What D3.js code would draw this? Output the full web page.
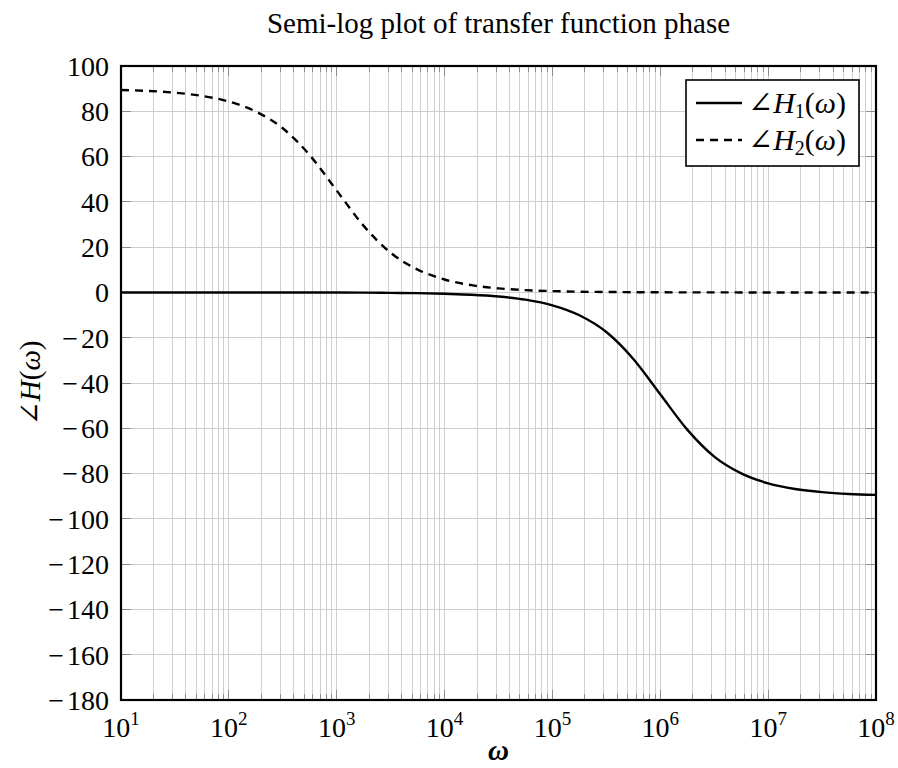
<!DOCTYPE html>
<html lang="en">
<head>
  <meta charset="UTF-8">
  <title>Semi-log plot of transfer function phase</title>
  <style>
    body { margin: 0; background: #fff; }
    svg { display: block; }
    text { font-family: "Liberation Serif", "DejaVu Serif", serif; fill: #000; }
    .grid line { stroke: #cfcfcf; stroke-width: 1; shape-rendering: crispEdges; }
    .tick-mark { stroke: #8c8c8c; stroke-width: 1; shape-rendering: crispEdges; }
  </style>
</head>
<body>
  <script src="https://d3js.org/d3.v7.min.js"></script>
  <script>
    // log10(omega) sample positions, quarter decades from 10^1 to 10^8
    const logOmega = [1, 1.25, 1.5, 1.75, 2, 2.25, 2.5, 2.75, 3, 3.25, 3.5, 3.75, 4, 4.25, 4.5,
                      4.75, 5, 5.25, 5.5, 5.75, 6, 6.25, 6.5, 6.75, 7, 7.25, 7.5, 7.75, 8];
    // phase values (degrees)
    const phaseH1 = [0, 0, 0, 0, 0, 0, -0.02, -0.03, -0.06, -0.1, -0.2, -0.3, -0.6, -1.0, -1.8,
                     -3.2, -5.7, -10.1, -17.5, -29.4, -45, -60.6, -72.5, -79.9, -84.3, -86.8, -88.2, -89.0, -89.4];
    const phaseH2 = [89.4, 89.0, 88.2, 86.8, 84.3, 79.9, 72.5, 60.6, 45, 29.4, 17.5, 10.1, 5.7, 3.2, 1.8,
                     1.0, 0.6, 0.3, 0.2, 0.1, 0.06, 0.03, 0.02, 0, 0, 0, 0, 0, 0];
    const yTicks = [100, 80, 60, 40, 20, 0, -20, -40, -60, -80, -100, -120, -140, -160, -180];
    const xDecades = [1, 2, 3, 4, 5, 6, 7, 8];

    const width = 898, height = 768;
    const margin = { top: 66, right: 22, bottom: 68, left: 121 };
    const iw = width - margin.left - margin.right;
    const ih = height - margin.top - margin.bottom;

    const x = d3.scaleLog().domain([1e1, 1e8]).range([0, iw]);
    const y = d3.scaleLinear().domain([-180, 100]).range([ih, 0]);

    const svg = d3.select("body").append("svg").attr("width", width).attr("height", height);

    svg.append("text")
      .attr("x", margin.left + iw / 2).attr("y", 33)
      .attr("text-anchor", "middle").attr("font-size", 29)
      .text("Semi-log plot of transfer function phase");

    const g = svg.append("g").attr("transform", `translate(${margin.left},${margin.top})`);

    // minor + major decade positions
    const minorX = [];
    xDecades.slice(0, -1).forEach(d => {
      for (let k = 2; k <= 9; k++) minorX.push(k * Math.pow(10, d));
    });
    const majorX = xDecades.map(d => Math.pow(10, d));

    const grid = g.append("g").attr("class", "grid");
    grid.selectAll("line.vx").data(minorX.concat(majorX)).enter().append("line")
      .attr("x1", d => x(d)).attr("x2", d => x(d)).attr("y1", 0).attr("y2", ih);
    grid.selectAll("line.hy").data(yTicks).enter().append("line")
      .attr("x1", 0).attr("x2", iw).attr("y1", d => y(d)).attr("y2", d => y(d));

    // tick marks inside the box on all sides
    const ticks = g.append("g");
    const addVTicks = (data, len) => {
      data.forEach(v => {
        ticks.append("line").attr("class", "tick-mark")
          .attr("x1", x(v)).attr("x2", x(v)).attr("y1", ih).attr("y2", ih - len);
        ticks.append("line").attr("class", "tick-mark")
          .attr("x1", x(v)).attr("x2", x(v)).attr("y1", 0).attr("y2", len);
      });
    };
    addVTicks(minorX, 6);
    addVTicks(majorX, 10);
    yTicks.forEach(v => {
      ticks.append("line").attr("class", "tick-mark")
        .attr("x1", 0).attr("x2", 10).attr("y1", y(v)).attr("y2", y(v));
      ticks.append("line").attr("class", "tick-mark")
        .attr("x1", iw).attr("x2", iw - 10).attr("y1", y(v)).attr("y2", y(v));
    });

    // y tick labels (wide minus like the TeX one)
    const yl0 = g.append("g").selectAll("text").data(yTicks).enter().append("text")
      .attr("x", -12).attr("y", d => y(d)).attr("dy", "0.35em")
      .attr("text-anchor", "end").attr("font-size", 28);
    yl0.filter(d => d < 0).append("tspan").attr("dx", 0).style("letter-spacing", "3px").text("\u2212");
    yl0.append("tspan").text(d => Math.abs(d));

    // x tick labels 10^n
    const xl = g.append("g").selectAll("text").data(xDecades).enter().append("text")
      .attr("x", d => x(Math.pow(10, d))).attr("y", ih + 37)
      .attr("text-anchor", "middle").attr("font-size", 28);
    xl.append("tspan").text("10");
    xl.append("tspan").attr("font-size", 19).attr("dy", -12).text(d => d);

    // axis titles
    svg.append("text")
      .attr("x", margin.left + iw / 2).attr("y", 760)
      .attr("text-anchor", "middle").attr("font-size", 29)
      .attr("font-style", "italic").attr("font-weight", "bold")
      .text("\u03c9");

    const yl = svg.append("text")
      .attr("transform", `translate(40,${margin.top + ih / 2}) rotate(-90)`)
      .attr("text-anchor", "middle").attr("font-size", 29);
    yl.append("tspan").text("\u2220");
    yl.append("tspan").attr("font-style", "italic").text("H");
    yl.append("tspan").text("(");
    yl.append("tspan").attr("font-style", "italic").text("\u03c9");
    yl.append("tspan").text(")");

    // curves
    const line = d3.line()
      .x((d, i) => x(Math.pow(10, logOmega[i])))
      .y(d => y(d))
      .curve(d3.curveMonotoneX);

    g.append("path").datum(phaseH2)
      .attr("d", line).attr("fill", "none")
      .attr("stroke", "#000").attr("stroke-width", 2.4)
      .attr("stroke-dasharray", "8,6");

    g.append("path").datum(phaseH1)
      .attr("d", line).attr("fill", "none")
      .attr("stroke", "#000").attr("stroke-width", 2.4);

    // frame
    g.append("rect")
      .attr("x", 0).attr("y", 0).attr("width", iw).attr("height", ih)
      .attr("fill", "none").attr("stroke", "#000").attr("stroke-width", 2.2);

    // legend
    const series = [
      { sub: "1", dash: null },
      { sub: "2", dash: "8,6" }
    ];
    const lg = svg.append("g").attr("transform", "translate(686,80)");
    lg.append("rect").attr("width", 173).attr("height", 86)
      .attr("fill", "#fff").attr("stroke", "#000").attr("stroke-width", 1.6);
    series.forEach((s, i) => {
      const cy = 23 + i * 37;
      lg.append("line")
        .attr("x1", 10).attr("x2", 56).attr("y1", cy).attr("y2", cy)
        .attr("stroke", "#000").attr("stroke-width", 2.4)
        .attr("stroke-dasharray", s.dash);
      const t = lg.append("text").attr("x", 62).attr("y", cy + 10).attr("font-size", 30);
      t.append("tspan").text("\u2220");
      t.append("tspan").attr("font-style", "italic").text("H");
      t.append("tspan").attr("font-size", 20).attr("dy", 5).text(s.sub);
      t.append("tspan").attr("dy", -5).text("(");
      t.append("tspan").attr("font-style", "italic").text("\u03c9");
      t.append("tspan").text(")");
    });
  </script>
</body>
</html>
